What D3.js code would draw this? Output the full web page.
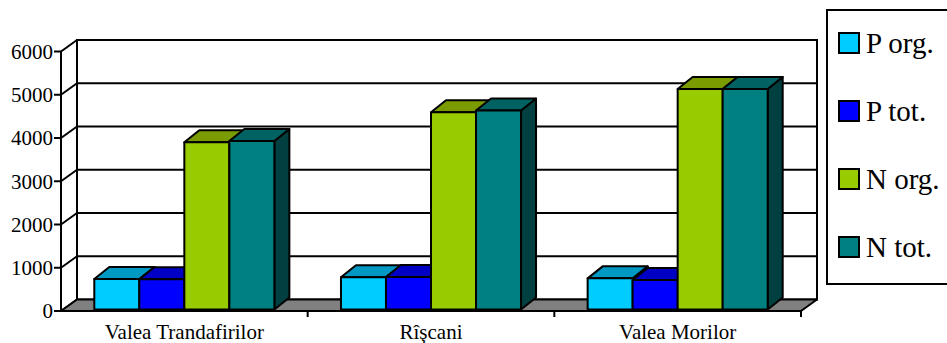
<!DOCTYPE html>
<html>
<head>
<meta charset="utf-8">
<script src="https://cdn.jsdelivr.net/npm/d3@7"></script>
<style>
  html, body { margin: 0; padding: 0; background: #fff; }
  svg { display: block; }
</style>
</head>
<body>
<svg id="chart" width="947" height="343"></svg>
<script>
// Nutrient loads by district
const categories = ["Valea Trandafirilor", "Rîşcani", "Valea Morilor"];
const seriesNames = ["P org.", "P tot.", "N org.", "N tot."];
const pOrg = [705, 745, 720];
const pTot = [700, 750, 680];
const nOrg = [3865, 4560, 5100];
const nTot = [3895, 4600, 5100];
const yTicks = [0, 1000, 2000, 3000, 4000, 5000, 6000];

const seriesValues = [pOrg, pTot, nOrg, nTot];
const faceColors = [
  { front: "#00ccff", top: "#0099c4", side: "#007fa0" },
  { front: "#0000ff", top: "#0000c4", side: "#00009a" },
  { front: "#99cc00", top: "#7a9c00", side: "#5c7600" },
  { front: "#008080", top: "#006262", side: "#004040" }
];
const serif = "Liberation Serif";

const svg = d3.select("#chart");

// plot box on the front plane, and the depth offset of the walls and bars
const x0 = 61, x1 = 801;
const wallDx = 16, wallDy = -11.5;
const barDx = 15, barDy = -12;
const barLift = -1.5;

const y = d3.scaleLinear().domain([0, 6000]).range([311, 51.5]);
const xBand = d3.scaleBand().domain(categories).range([x0, x1]);
const inner = d3.scaleBand().domain(seriesNames)
  .range([xBand.bandwidth() * 0.135, xBand.bandwidth() * 0.865]);

const poly = pts => pts.map(p => p.join(",")).join(" ");

// back wall
const wall = svg.append("g");
wall.append("rect")
  .attr("x", x0 + wallDx).attr("y", y(6000) + wallDy)
  .attr("width", x1 - x0).attr("height", y(0) - y(6000))
  .attr("fill", "#fff").attr("stroke", "#000").attr("stroke-width", 2);

// gridlines on the back wall and the side wall
yTicks.forEach(v => {
  const yy = y(v);
  if (v > 0) {
    wall.append("line")
      .attr("x1", x0 + wallDx).attr("x2", x1 + wallDx)
      .attr("y1", yy + wallDy).attr("y2", yy + wallDy)
      .attr("stroke", "#000").attr("stroke-width", 2);
  }
  wall.append("line")
    .attr("x1", x0).attr("y1", yy)
    .attr("x2", x0 + wallDx).attr("y2", yy + wallDy)
    .attr("stroke", "#000").attr("stroke-width", 2);
});

// floor
wall.append("polygon")
  .attr("points", poly([[x0, y(0)], [x1, y(0)], [x1 + wallDx, y(0) + wallDy], [x0 + wallDx, y(0) + wallDy]]))
  .attr("fill", "#808080").attr("stroke", "#000").attr("stroke-width", 2)
  .attr("stroke-linejoin", "round");

// bars, drawn left to right so nearer faces overlap
const bars = svg.append("g");
categories.forEach((cat, ci) => {
  seriesNames.forEach((s, si) => {
    const v = seriesValues[si][ci];
    const c = faceColors[si];
    const bx = xBand(cat) + inner(s);
    const bw = inner.bandwidth();
    const yb = y(0) + barLift;
    const yt = y(v) + barLift;
    const g = bars.append("g")
      .attr("stroke", "#000").attr("stroke-width", 2).attr("stroke-linejoin", "round");
    g.append("polygon")
      .attr("points", poly([[bx + bw, yb], [bx + bw + barDx, yb + barDy], [bx + bw + barDx, yt + barDy], [bx + bw, yt]]))
      .attr("fill", c.side);
    g.append("polygon")
      .attr("points", poly([[bx, yt], [bx + bw, yt], [bx + bw + barDx, yt + barDy], [bx + barDx, yt + barDy]]))
      .attr("fill", c.top);
    g.append("rect")
      .attr("x", bx).attr("y", yt).attr("width", bw).attr("height", yb - yt)
      .attr("fill", c.front);
  });
});

// front axes
const axes = svg.append("g").attr("stroke", "#000").attr("stroke-width", 2);
axes.append("line").attr("x1", x0).attr("x2", x0).attr("y1", y(6000)).attr("y2", y(0) + 1);
axes.append("line").attr("x1", x0 - 1).attr("x2", x1).attr("y1", y(0)).attr("y2", y(0));
yTicks.forEach(v => {
  axes.append("line").attr("x1", x0 - 7).attr("x2", x0).attr("y1", y(v)).attr("y2", y(v));
});
categories.forEach(cat => {
  const xe = xBand(cat) + xBand.bandwidth();
  axes.append("line").attr("x1", xe).attr("x2", xe).attr("y1", y(0)).attr("y2", y(0) + 6);
});

// tick labels
svg.append("g").selectAll("text").data(yTicks).join("text")
  .attr("x", x0 - 8).attr("y", d => y(d)).attr("dy", "0.35em")
  .attr("text-anchor", "end").attr("font-size", 21).style("font-family", serif).attr("fill", "#000")
  .text(d => d);

svg.append("g").selectAll("text").data(categories).join("text")
  .attr("x", d => xBand(d) + xBand.bandwidth() / 2).attr("y", 339)
  .attr("text-anchor", "middle").attr("font-size", 21).style("font-family", serif).attr("fill", "#000")
  .text(d => d);

// legend
const legend = svg.append("g");
legend.append("rect")
  .attr("x", 827).attr("y", 10).attr("width", 140).attr("height", 274)
  .attr("fill", "#fff").attr("stroke", "#000").attr("stroke-width", 2);
seriesNames.forEach((s, i) => {
  const cy = 43 + i * 68;
  legend.append("rect")
    .attr("x", 839).attr("y", cy - 10).attr("width", 20).attr("height", 20)
    .attr("fill", faceColors[i].front).attr("stroke", "#000").attr("stroke-width", 2);
  legend.append("text")
    .attr("x", 866).attr("y", cy + 10)
    .attr("font-size", 29).style("font-family", serif).attr("fill", "#000")
    .text(s);
});
</script>
</body>
</html>
